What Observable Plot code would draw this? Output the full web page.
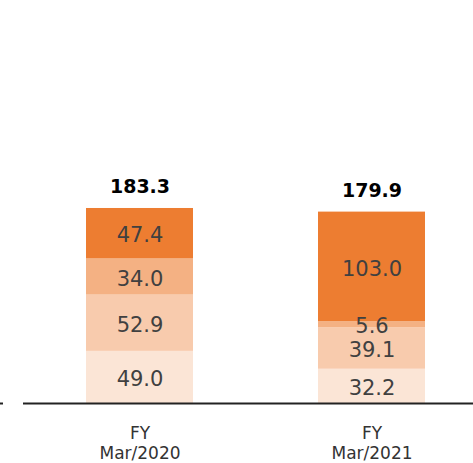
<!DOCTYPE html>
<html><head><meta charset="utf-8">
<script src="https://cdn.jsdelivr.net/npm/d3@7"></script>
<script src="https://cdn.jsdelivr.net/npm/@observablehq/plot@0.6"></script>
<style>body{margin:0;background:#fff;font-family:"DejaVu Sans",sans-serif}</style>
</head><body><div id="chart"></div>
<script>
const periods = ["FY\nMar/2020", "FY\nMar/2021"];
const segments = ["s1", "s2", "s3", "s4"];
const values2020 = [49.0, 52.9, 34.0, 47.4];
const values2021 = [32.2, 39.1, 5.6, 103.0];
const totals = [183.3, 179.9];
const colors = ["#FBE5D6", "#F8CBAD", "#F4B183", "#ED7D31"];

const rows = [];
[values2020, values2021].forEach((vals, i) => {
  vals.forEach((v, j) => rows.push({period: periods[i], seg: segments[j], value: v}));
});
const totalRows = periods.map((p, i) => ({period: p, total: totals[i]}));

const chart = Plot.plot({
  width: 473, height: 463,
  marginLeft: 23, marginRight: 0, marginTop: 0, marginBottom: 60,
  style: {fontFamily: "DejaVu Sans, sans-serif", background: "#fff"},
  x: {domain: periods, range: [-39.6, 551], padding: 0.54, label: null},
  y: {domain: [0, 378.8], axis: null},
  color: {domain: segments, range: colors},
  marks: [
    Plot.barY(rows, Plot.stackY({x: "period", y: "value", fill: "seg", z: "seg", order: segments})),
    Plot.text(rows, Plot.stackY({x: "period", y: "value", z: "seg", order: segments, text: d => d.value.toFixed(1), fill: "#404040", fontSize: 21, dy: 2})),
    Plot.text(totalRows, {x: "period", y: "total", text: d => d.total.toFixed(1), dy: -15, lineAnchor: "bottom", fontSize: 19, fontWeight: "bold", fill: "#000"}),
    Plot.ruleY([0], {stroke: "#222", strokeWidth: 2}),
    Plot.ruleY([0], {stroke: "#222", strokeWidth: 2, insetLeft: -23, insetRight: 470}),
    Plot.axisX({tickSize: 0, tickPadding: 21, fontSize: 17, lineHeight: 1.18, fill: "#333", label: null})
  ]
});
document.getElementById("chart").appendChild(chart);
</script></body></html>
